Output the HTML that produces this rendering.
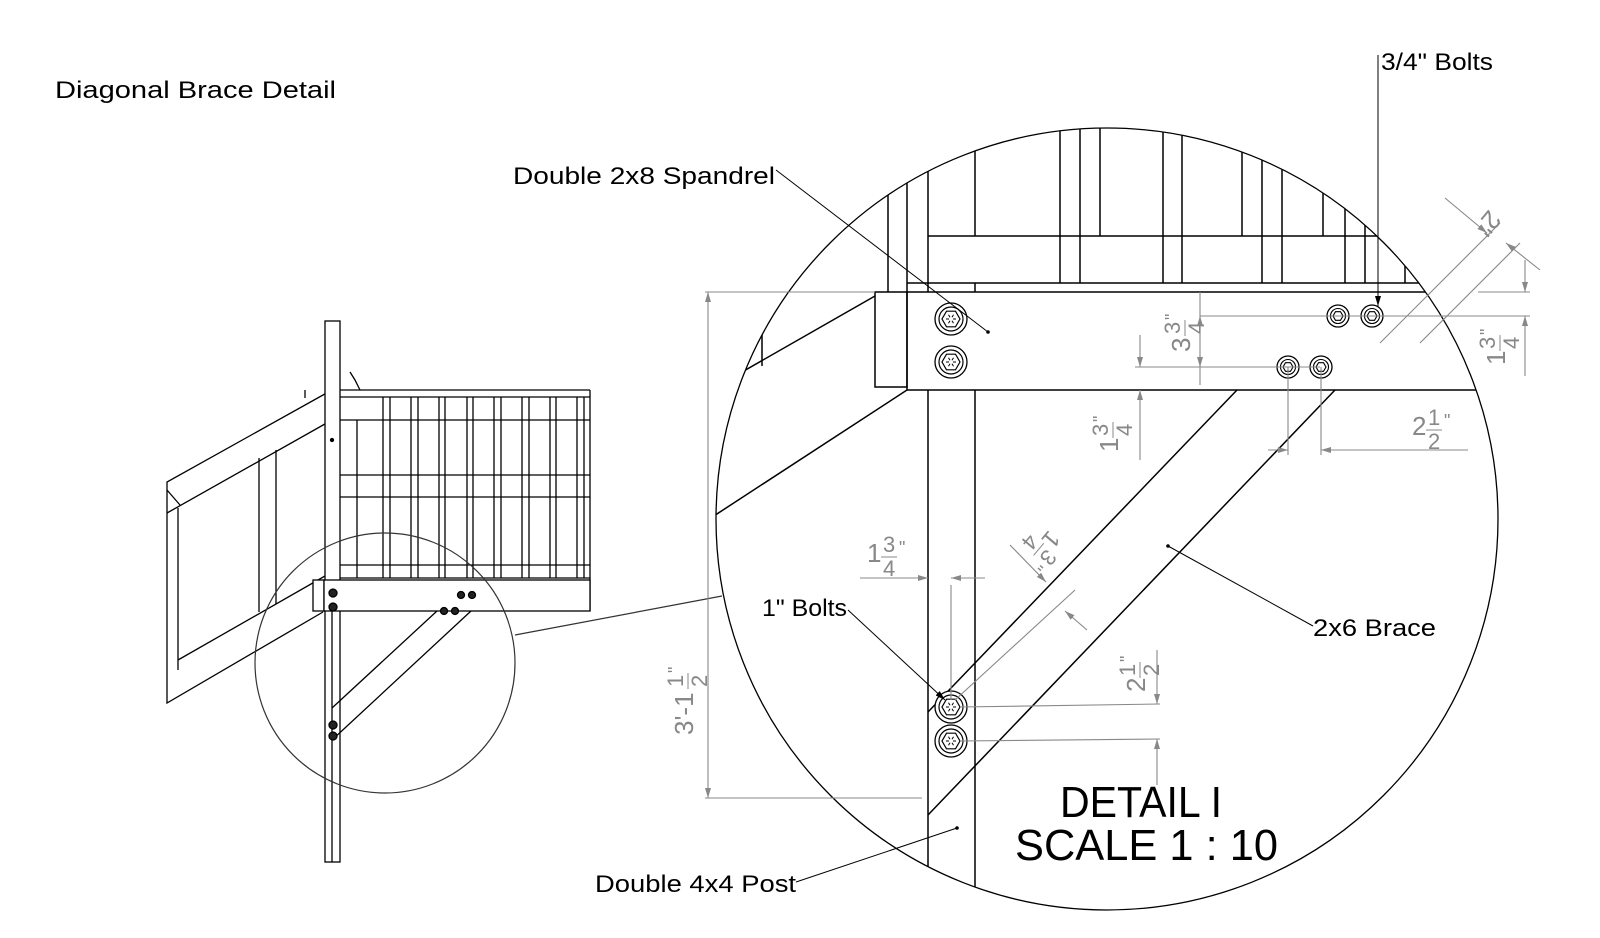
<!DOCTYPE html>
<html><head><meta charset="utf-8"><style>
html,body{margin:0;padding:0;background:#fff;}
svg{display:block;}
text{font-family:"Liberation Sans",sans-serif;}
</style></head><body>
<svg width="1600" height="938" viewBox="0 0 1600 938" xmlns="http://www.w3.org/2000/svg">
<defs>
<clipPath id="bc"><circle cx="1107" cy="519" r="391"/></clipPath>
<marker id="ar" markerWidth="10" markerHeight="6" refX="10" refY="3" orient="auto" markerUnits="userSpaceOnUse"><path d="M0,0 L10,3 L0,6 Z" fill="#888"/></marker>
<marker id="ab" markerWidth="10" markerHeight="6" refX="10" refY="3" orient="auto" markerUnits="userSpaceOnUse"><path d="M0,0 L10,3 L0,6 Z" fill="#000"/></marker>
<g id="bb">
  <circle r="16" fill="#fff" stroke="#000" stroke-width="1.3"/>
  <circle r="12" fill="none" stroke="#000" stroke-width="1.2"/>
  <polygon points="9,0 4.5,7.8 -4.5,7.8 -9,0 -4.5,-7.8 4.5,-7.8" fill="none" stroke="#000" stroke-width="1.2"/>
  <g stroke="#000" stroke-width="1"><line x1="-5" y1="0" x2="-2" y2="0"/><line x1="2" y1="0" x2="5" y2="0"/><line x1="-2.5" y1="-4.3" x2="-1" y2="-1.7"/><line x1="2.5" y1="4.3" x2="1" y2="1.7"/><line x1="2.5" y1="-4.3" x2="1" y2="-1.7"/><line x1="-2.5" y1="4.3" x2="-1" y2="1.7"/></g>
</g>
<g id="sb">
  <circle r="11" fill="#fff" stroke="#000" stroke-width="1.3"/>
  <circle r="7.5" fill="none" stroke="#000" stroke-width="1.1"/>
  <polygon points="5,0 2.5,4.3 -2.5,4.3 -5,0 -2.5,-4.3 2.5,-4.3" fill="none" stroke="#000" stroke-width="1.1"/>
</g>
</defs>
<rect width="1600" height="938" fill="#fff"/>

<text x="55" y="98" font-size="24" fill="#000" textLength="281" lengthAdjust="spacingAndGlyphs">Diagonal Brace Detail</text>

<!-- small overview drawing -->
<g stroke="#000" stroke-width="1.3" fill="none">
  <polyline points="332,390 167,482 167,703 323,612"/>
  <line x1="167" y1="513" x2="332" y2="420"/>
  <line x1="178" y1="508" x2="178" y2="670"/>
  <line x1="178" y1="660" x2="332" y2="572"/>
  <line x1="259" y1="458" x2="259" y2="612"/>
  <line x1="276" y1="450" x2="276" y2="604"/>
  <line x1="167" y1="490" x2="180" y2="505"/>
  <line x1="305" y1="390" x2="305" y2="398"/>
  <polyline points="350,372 355,380 360,390"/>
  <rect x="325" y="321" width="15" height="541" fill="#fff"/>
  <line x1="340" y1="390" x2="590" y2="390"/>
  <line x1="340" y1="397" x2="590" y2="397"/>
  <line x1="340" y1="420" x2="590" y2="420"/>
  <line x1="340" y1="475" x2="590" y2="475"/>
  <line x1="340" y1="497" x2="590" y2="497"/>
  <line x1="340" y1="565" x2="590" y2="565"/>
  <line x1="340" y1="578" x2="590" y2="578"/>
  <g>
    <line x1="383" y1="397" x2="383" y2="578"/><line x1="390" y1="397" x2="390" y2="578"/>
    <line x1="411" y1="397" x2="411" y2="578"/><line x1="418" y1="397" x2="418" y2="578"/>
    <line x1="439" y1="397" x2="439" y2="578"/><line x1="445" y1="397" x2="445" y2="578"/>
    <line x1="467" y1="397" x2="467" y2="578"/><line x1="473" y1="397" x2="473" y2="578"/>
    <line x1="494" y1="397" x2="494" y2="578"/><line x1="501" y1="397" x2="501" y2="578"/>
    <line x1="522" y1="397" x2="522" y2="578"/><line x1="529" y1="397" x2="529" y2="578"/>
    <line x1="550" y1="397" x2="550" y2="578"/><line x1="556" y1="397" x2="556" y2="578"/>
    <line x1="577" y1="397" x2="577" y2="578"/><line x1="584" y1="397" x2="584" y2="578"/>
    <line x1="357" y1="420" x2="357" y2="578"/><line x1="590" y1="390" x2="590" y2="611"/>
  </g>
  <rect x="313" y="580" width="11" height="31" fill="#fff"/>
  <rect x="324" y="580" width="266" height="31" fill="#fff"/>
  <line x1="437" y1="611" x2="332" y2="708"/>
  <line x1="471" y1="611" x2="332" y2="740"/>
  <line x1="332" y1="611" x2="332" y2="862"/>
  <g fill="#222"><circle cx="333" cy="593" r="4"/><circle cx="333" cy="607" r="4"/>
  <circle cx="461" cy="595" r="3.5"/><circle cx="472" cy="595" r="3.5"/>
  <circle cx="444" cy="611" r="3.5"/><circle cx="455" cy="611" r="3.5"/>
  <circle cx="333" cy="725" r="4"/><circle cx="333" cy="736" r="4"/></g>
  <circle cx="332" cy="440" r="1.5" fill="#000"/>
</g>
<ellipse cx="385" cy="663" rx="130" ry="130" fill="none" stroke="#333" stroke-width="1.2"/>
<line x1="515" y1="635" x2="722" y2="596" stroke="#333" stroke-width="1.2"/>

<!-- big detail -->
<g clip-path="url(#bc)" stroke="#000" stroke-width="1.5" fill="none">
  <line x1="888" y1="120" x2="888" y2="292"/>
  <line x1="907" y1="120" x2="907" y2="292"/>
  <line x1="928" y1="120" x2="928" y2="292"/>
  <line x1="975" y1="120" x2="975" y2="236"/>
  <line x1="1060" y1="120" x2="1060" y2="283"/>
  <line x1="1080" y1="120" x2="1080" y2="283"/>
  <line x1="1100" y1="120" x2="1100" y2="236"/>
  <line x1="1163" y1="120" x2="1163" y2="283"/>
  <line x1="1182" y1="120" x2="1182" y2="283"/>
  <line x1="1242" y1="120" x2="1242" y2="236"/>
  <line x1="1262" y1="120" x2="1262" y2="283"/>
  <line x1="1282" y1="120" x2="1282" y2="283"/>
  <line x1="1323" y1="120" x2="1323" y2="236"/>
  <line x1="1345" y1="120" x2="1345" y2="283"/>
  <line x1="1365" y1="120" x2="1365" y2="283"/>
  <line x1="1405" y1="120" x2="1405" y2="283"/>
  <line x1="928" y1="236" x2="1500" y2="236"/>
  <line x1="907" y1="283" x2="1500" y2="283"/>
  <line x1="975" y1="283" x2="975" y2="292"/>
  <rect x="875" y="292" width="32" height="95"/>
  <line x1="907" y1="292" x2="1500" y2="292"/>
  <line x1="907" y1="292" x2="907" y2="390"/>
  <line x1="907" y1="390" x2="1500" y2="390"/>
  <line x1="875" y1="296" x2="700" y2="396"/>
  <line x1="907" y1="390" x2="700" y2="525"/>
  <line x1="762" y1="333" x2="762" y2="366"/>
  <line x1="928" y1="390" x2="928" y2="920"/>
  <line x1="975" y1="390" x2="975" y2="920"/>
  <line x1="1237" y1="390" x2="928" y2="712"/>
  <line x1="1335" y1="390" x2="928" y2="815"/>
</g>
<circle cx="1107" cy="519" r="391" fill="none" stroke="#000" stroke-width="1.3"/>

<use href="#bb" x="951" y="319"/><use href="#bb" x="951" y="362"/>
<use href="#bb" x="951" y="707"/><use href="#bb" x="951" y="741"/>
<use href="#sb" x="1338" y="316"/><use href="#sb" x="1372" y="316"/>
<use href="#sb" x="1288" y="367"/><use href="#sb" x="1321" y="367"/>

<!-- dimensions (gray) -->
<g stroke="#888" stroke-width="1.1" fill="none">
  <line x1="705" y1="292" x2="875" y2="292"/>
  <line x1="705" y1="798" x2="922" y2="798"/>
  <line x1="708" y1="300" x2="708" y2="292" marker-end="url(#ar)"/>
  <line x1="708" y1="300" x2="708" y2="798" marker-end="url(#ar)"/>
  <line x1="1200" y1="292" x2="1200" y2="385"/>
  <line x1="1200" y1="330" x2="1200" y2="316" marker-end="url(#ar)"/>
  <line x1="1200" y1="355" x2="1200" y2="367" marker-end="url(#ar)"/>
  <line x1="1200" y1="316" x2="1530" y2="316"/>
  <line x1="1135" y1="367" x2="1320" y2="367"/>
  <line x1="1140" y1="335" x2="1140" y2="367" marker-end="url(#ar)"/>
  <line x1="1140" y1="460" x2="1140" y2="390" marker-end="url(#ar)"/>
  <line x1="1478" y1="292" x2="1530" y2="292"/>
  <line x1="1525" y1="260" x2="1525" y2="292" marker-end="url(#ar)"/>
  <line x1="1525" y1="376" x2="1525" y2="316" marker-end="url(#ar)"/>
  <line x1="1288" y1="367" x2="1288" y2="455"/>
  <line x1="1321" y1="367" x2="1321" y2="455"/>
  <line x1="1268" y1="450" x2="1288" y2="450" marker-end="url(#ar)"/>
  <line x1="1468" y1="450" x2="1321" y2="450" marker-end="url(#ar)"/>
  <line x1="1380" y1="343" x2="1500" y2="223"/>
  <line x1="1420" y1="343" x2="1520" y2="243"/>
  <line x1="1445" y1="198" x2="1487" y2="233" marker-end="url(#ar)"/>
  <line x1="1540" y1="270" x2="1506" y2="243" marker-end="url(#ar)"/>
  <line x1="860" y1="578" x2="928" y2="578" marker-end="url(#ar)"/>
  <line x1="985" y1="578" x2="951" y2="578" marker-end="url(#ar)"/>
  <line x1="951" y1="585" x2="951" y2="700"/>
  <line x1="955" y1="700" x2="1075" y2="590"/>
  <line x1="1010" y1="545" x2="1046" y2="582" marker-end="url(#ar)"/>
  <line x1="1087" y1="630" x2="1065" y2="611" marker-end="url(#ar)"/>
  <line x1="960" y1="707" x2="1160" y2="704"/>
  <line x1="960" y1="741" x2="1160" y2="739"/>
  <line x1="1157" y1="650" x2="1157" y2="704" marker-end="url(#ar)"/>
  <line x1="1157" y1="785" x2="1157" y2="739" marker-end="url(#ar)"/>
</g>
<g fill="#888" font-size="26">
  <g transform="translate(693,735) rotate(-90)"><text x="0" y="0">3'-1</text><text x="48" y="-10" font-size="22">1</text><line x1="46" y1="-5" x2="62" y2="-5" stroke="#888"/><text x="48" y="14" font-size="22">2</text><text x="62" y="-12" font-size="18">"</text></g>
  <g transform="translate(1190,352) rotate(-90)"><text x="0" y="0">3</text><text x="18" y="-10" font-size="22">3</text><line x1="16" y1="-5" x2="32" y2="-5" stroke="#888"/><text x="18" y="14" font-size="22">4</text><text x="32" y="-12" font-size="18">"</text></g>
  <g transform="translate(1118,452) rotate(-90)"><text x="0" y="0">1</text><text x="16" y="-10" font-size="22">3</text><line x1="14" y1="-5" x2="30" y2="-5" stroke="#888"/><text x="16" y="14" font-size="22">4</text><text x="30" y="-12" font-size="18">"</text></g>
  <g transform="translate(1505,365) rotate(-90)"><text x="0" y="0">1</text><text x="16" y="-10" font-size="22">3</text><line x1="14" y1="-5" x2="30" y2="-5" stroke="#888"/><text x="16" y="14" font-size="22">4</text><text x="30" y="-12" font-size="18">"</text></g>
  <g transform="translate(1145,692) rotate(-90)"><text x="0" y="0">2</text><text x="16" y="-10" font-size="22">1</text><line x1="14" y1="-5" x2="30" y2="-5" stroke="#888"/><text x="16" y="14" font-size="22">2</text><text x="30" y="-12" font-size="18">"</text></g>
  <g transform="translate(1412,435)"><text x="0" y="0">2</text><text x="16" y="-10" font-size="22">1</text><line x1="14" y1="-5" x2="30" y2="-5" stroke="#888"/><text x="16" y="14" font-size="22">2</text><text x="32" y="-8" font-size="18">"</text></g>
  <g transform="translate(867,562)"><text x="0" y="0">1</text><text x="16" y="-10" font-size="22">3</text><line x1="14" y1="-5" x2="30" y2="-5" stroke="#888"/><text x="16" y="14" font-size="22">4</text><text x="32" y="-8" font-size="18">"</text></g>
  <g transform="translate(1490,220) rotate(130)"><text x="-8" y="8">2"</text></g>
  <g transform="translate(1040,540) rotate(130)"><text x="-14" y="0" font-size="24">1</text><text x="2" y="-10" font-size="22">3</text><line x1="0" y1="-5" x2="16" y2="-5" stroke="#888"/><text x="2" y="14" font-size="22">4</text><text x="18" y="-8" font-size="18">"</text></g>
</g>

<!-- leaders and labels -->
<g stroke="#000" stroke-width="1" fill="none">
  <line x1="776" y1="170" x2="988" y2="332"/>
  <line x1="1378" y1="55" x2="1378" y2="306" marker-end="url(#ab)"/>
  <line x1="1168" y1="546" x2="1313" y2="626"/>
  <line x1="848" y1="610" x2="945" y2="700" marker-end="url(#ab)"/>
  <line x1="796" y1="882" x2="957" y2="828"/>
</g>
<g fill="#000"><circle cx="988" cy="332" r="1.8"/><circle cx="1168" cy="546" r="1.8"/><circle cx="957" cy="828" r="1.8"/></g>
<g fill="#000" font-size="24">
  <text x="513" y="184" textLength="262" lengthAdjust="spacingAndGlyphs">Double 2x8 Spandrel</text>
  <text x="1381" y="70" textLength="112" lengthAdjust="spacingAndGlyphs">3/4" Bolts</text>
  <text x="1313" y="636" textLength="123" lengthAdjust="spacingAndGlyphs">2x6 Brace</text>
  <text x="762" y="616" textLength="85" lengthAdjust="spacingAndGlyphs">1" Bolts</text>
  <text x="595" y="892" textLength="201" lengthAdjust="spacingAndGlyphs">Double 4x4 Post</text>
  <text x="1060" y="817" font-size="44" textLength="162" lengthAdjust="spacingAndGlyphs">DETAIL I</text>
  <text x="1015" y="860" font-size="44" textLength="263" lengthAdjust="spacingAndGlyphs">SCALE 1 : 10</text>
</g>
</svg>
</body></html>
